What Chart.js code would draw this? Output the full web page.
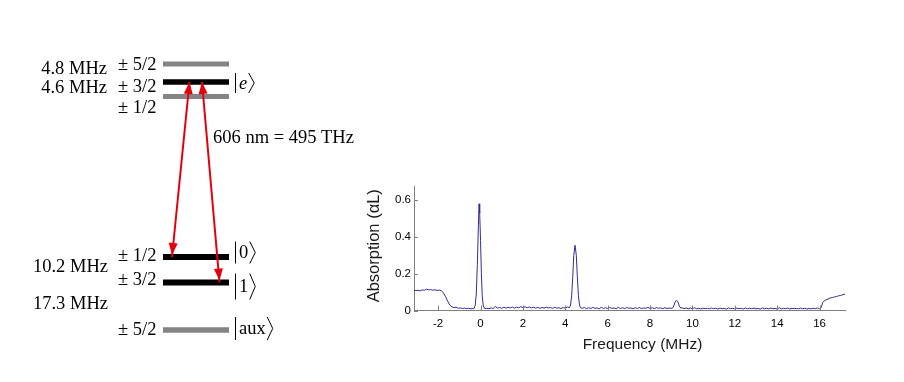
<!DOCTYPE html>
<html><head><meta charset="utf-8">
<script src="https://cdn.jsdelivr.net/npm/chart.js@4"></script>
<style>
html,body{margin:0;padding:0;background:#fff;}
#wrap{position:relative;width:904px;height:382px;overflow:hidden;}
canvas{position:absolute;left:0;top:0;}
</style></head><body>
<div id="wrap">
<canvas id="diagram" width="904" height="382"></canvas>
<canvas id="spectrum" width="904" height="382"></canvas>
</div>
<script>
// ---------- Spectrum data ----------
const freqMHz = [
-3.14,-3.05,-2.95,-2.85,-2.75,-2.65,-2.55,-2.45,-2.35,-2.25,-2.15,-2.05,-1.95,-1.85,
-1.75,-1.65,-1.55,-1.45,-1.35,-1.25,-1.15,-1.05,-0.95,-0.85,-0.75,-0.65,-0.55,-0.45,-0.35,
-0.30,-0.25,-0.20,-0.15,-0.10,-0.07,-0.04,0.00,0.04,0.08,0.13,0.20,
0.3,0.4,0.5,0.6,0.7,0.8,0.9,1.0,1.1,1.2,1.3,1.4,1.5,1.6,1.7,1.8,1.9,2.0,2.1,2.2,2.3,2.4,2.5,2.6,2.7,2.8,2.9,3.0,3.1,3.2,3.3,3.4,3.5,3.6,3.7,3.8,3.9,4.0,4.1,
4.20,4.25,4.30,4.35,4.40,4.46,4.52,4.57,4.62,4.67,4.72,
4.8,4.9,5.0,5.1,5.2,5.3,5.4,5.5,5.6,5.7,5.8,5.9,6.0,6.1,6.2,6.3,6.4,6.5,6.6,6.7,6.8,6.9,7.0,7.1,7.2,7.3,7.4,7.5,7.6,7.7,7.8,7.9,8.0,8.1,8.2,8.3,8.4,8.5,8.6,8.7,8.8,8.9,9.0,
9.05,9.12,9.18,9.25,9.32,9.38,9.45,
9.5,9.6,9.7,9.8,9.9,10.0,10.1,10.2,10.3,10.4,10.5,10.6,10.7,10.8,10.9,11.0,11.1,11.2,11.3,11.4,11.5,11.6,11.7,11.8,11.9,12.0,12.1,12.2,12.3,12.4,12.5,12.6,12.7,12.8,12.9,13.0,13.1,13.2,13.3,13.4,13.5,13.6,13.7,13.8,13.9,14.0,14.1,14.2,14.3,14.4,14.5,14.6,14.7,14.8,14.9,15.0,15.1,15.2,15.3,15.4,15.5,15.6,15.7,15.8,15.9,16.0,
16.05,16.1,16.15,16.2,16.3,16.4,16.5,16.6,16.7,16.8,16.9,17.0,17.1,17.2
];
const absorption = [
0.111,0.108,0.110,0.107,0.112,0.110,0.116,0.112,0.114,0.110,0.113,0.109,0.111,0.108,
0.095,0.075,0.050,0.030,0.020,0.016,0.018,0.012,0.014,0.011,0.013,0.010,0.012,0.009,0.011,
0.012,0.030,0.090,0.250,0.470,0.580,0.530,0.380,0.200,0.080,0.025,0.010,
0.012,0.010,0.014,0.011,0.022,0.013,0.016,0.012,0.018,0.013,0.017,0.014,0.019,0.013,0.018,0.015,0.021,0.016,0.020,0.015,0.019,0.014,0.018,0.013,0.017,0.012,0.016,0.013,0.018,0.014,0.016,0.012,0.017,0.013,0.015,0.011,0.016,0.012,0.019,
0.015,0.030,0.080,0.180,0.300,0.355,0.300,0.180,0.080,0.030,0.015,
0.012,0.016,0.010,0.015,0.011,0.017,0.012,0.014,0.009,0.018,0.011,0.015,0.010,0.016,0.012,0.014,0.009,0.017,0.011,0.015,0.010,0.016,0.012,0.014,0.009,0.015,0.011,0.016,0.010,0.014,0.012,0.017,0.011,0.015,0.010,0.016,0.012,0.014,0.010,0.015,0.011,0.013,0.012,
0.012,0.025,0.045,0.055,0.045,0.025,0.012,
0.016,0.010,0.014,0.009,0.013,0.010,0.015,0.009,0.012,0.008,0.013,0.010,0.012,0.009,0.014,0.010,0.012,0.008,0.013,0.010,0.011,0.008,0.014,0.010,0.012,0.009,0.013,0.010,0.012,0.008,0.014,0.009,0.012,0.010,0.013,0.009,0.011,0.008,0.014,0.010,0.012,0.009,0.013,0.010,0.011,0.008,0.015,0.009,0.012,0.010,0.013,0.008,0.012,0.010,0.011,0.009,0.013,0.010,0.012,0.008,0.011,0.009,0.012,0.010,0.014,0.009,
0.012,0.025,0.045,0.050,0.058,0.062,0.068,0.070,0.074,0.076,0.080,0.082,0.086,0.089
];
const xTicks = [-2,0,2,4,6,8,10,12,14,16];
const yTicks = [0,0.2,0.4,0.6];
const xTitle = 'Frequency (MHz)';
const yTitle = 'Absorption (\u03B1L)';

// ---------- Level diagram data (schematic energy coordinate) ----------
const upperLevelLabels = ['\u00B1 5/2','\u00B1 3/2','\u00B1 1/2'];
const upperLevelPos = [64, 82, 96.5];
const lowerLevelLabels = ['\u00B1 1/2','\u00B1 3/2','\u00B1 5/2'];
const lowerLevelPos = [257, 282.5, 330];
const upperSplittings = ['4.8 MHz','4.6 MHz'];
const lowerSplittings = ['10.2 MHz','17.3 MHz'];
const ketNames = ['e','0','1','aux'];
const transitionLabel = '606 nm = 495 THz';
const transitionTop = [189.5, 202];     // horizontal place on |e>
const transitionBottom = [172, 219.5];  // horizontal place on |0>, |1>

// ---------- Spectrum chart ----------
const spectrumDecor = {
  id: 'spectrumDecor',
  afterDraw(chart) {
    const {ctx, chartArea: a, scales: {x, y}} = chart;
    ctx.save();
    ctx.strokeStyle = '#808080'; ctx.lineWidth = 1;
    ctx.beginPath();
    xTicks.forEach(v => { const px = Math.round(x.getPixelForValue(v)) + 0.5; ctx.moveTo(px, a.bottom); ctx.lineTo(px, a.bottom - 5); });
    yTicks.forEach(v => { const py = Math.round(y.getPixelForValue(v)) + 0.5; ctx.moveTo(a.left, py); ctx.lineTo(a.left + 4, py); });
    ctx.stroke();
    ctx.fillStyle = '#1a1a1a';
    ctx.font = '15.5px "Liberation Sans", Arial, sans-serif';
    ctx.textAlign = 'center'; ctx.textBaseline = 'alphabetic';
    ctx.fillText(xTitle, (a.left + a.right) / 2 + 13, a.bottom + 38);
    ctx.translate(a.left - 35, (a.top + a.bottom) / 2 - 2.5);
    ctx.rotate(-Math.PI / 2);
    ctx.font = '16.5px "Liberation Sans", Arial, sans-serif';
    ctx.fillText(yTitle, 0, 0);
    ctx.restore();
  }
};

new Chart(document.getElementById('spectrum'), {
  type: 'scatter',
  data: { datasets: [{
    data: freqMHz.map((f, i) => ({x: f, y: absorption[i]})),
    showLine: true, borderColor: '#2f2f92', borderWidth: 1, pointRadius: 0, tension: 0
  }]},
  options: {
    responsive: false, animation: false, devicePixelRatio: 1,
    layout: { padding: { top: 186, right: 59, left: 0, bottom: 0 } },
    plugins: { legend: {display: false}, tooltip: {enabled: false} },
    scales: {
      x: {
        type: 'linear', min: -3.14, max: 17.2,
        afterBuildTicks: s => { s.ticks = xTicks.map(v => ({value: v})); },
        afterFit: s => { s.height = 71.5; },
        grid: {display: false, drawTicks: false},
        border: {display: true, color: '#808080', width: 1},
        ticks: { padding: 6, color: '#000', autoSkip: false, maxRotation: 0,
          font: {family: '"Liberation Sans", Arial, sans-serif', size: 11.5},
          callback: v => String(v) }
      },
      y: {
        type: 'linear', min: 0, max: 0.677,
        afterBuildTicks: s => { s.ticks = yTicks.map(v => ({value: v})); },
        afterFit: s => { s.width = 414; },
        grid: {display: false, drawTicks: false},
        border: {display: true, color: '#808080', width: 1},
        ticks: { padding: 3, color: '#000',
          font: {family: '"Liberation Sans", Arial, sans-serif', size: 11.5},
          callback: v => v === 0 ? '0' : v.toFixed(1) }
      }
    }
  },
  plugins: [spectrumDecor]
});

// ---------- Level diagram chart ----------
const levelLeft = 163, levelRight = 229;
const RED = '#e4000c';
const SERIF = '"Liberation Serif", "Times New Roman", serif';
const diagramDatasets = [];
for (let i = 0; i < 2; i++) {
  diagramDatasets.push({
    label: 'arrow' + i,
    data: [{x: transitionTop[i], y: upperLevelPos[1]}, {x: transitionBottom[i], y: lowerLevelPos[i]}],
    showLine: true, borderColor: RED, borderWidth: 2, pointRadius: 0, order: 0
  });
}
upperLevelPos.forEach((p, i) => diagramDatasets.push({
  label: 'upper' + i,
  data: [{x: levelLeft, y: p}, {x: levelRight, y: p}],
  showLine: true, borderColor: i === 1 ? '#000000' : '#848484',
  borderWidth: i === 1 ? 5.5 : 5, borderCapStyle: 'butt', pointRadius: 0, order: 1
}));
lowerLevelPos.forEach((p, i) => diagramDatasets.push({
  label: 'lower' + i,
  data: [{x: levelLeft, y: p}, {x: levelRight, y: p}],
  showLine: true, borderColor: i < 2 ? '#000000' : '#848484',
  borderWidth: i < 2 ? 6 : 5.5, borderCapStyle: 'butt', pointRadius: 0, order: 1
}));

const diagramDecor = {
  id: 'diagramDecor',
  afterDatasetsDraw(chart) {
    const {ctx, scales: {x, y}} = chart;
    const X = v => x.getPixelForValue(v), Y = v => y.getPixelForValue(v);
    ctx.save();
    ctx.fillStyle = RED;
    for (let i = 0; i < 2; i++) {
      const p0 = {x: X(transitionTop[i]), y: Y(upperLevelPos[1])};
      const p1 = {x: X(transitionBottom[i]), y: Y(lowerLevelPos[i]) - 2};
      [[p0, p1], [p1, p0]].forEach(([tip, from]) => {
        const dx = tip.x - from.x, dy = tip.y - from.y, L = Math.hypot(dx, dy);
        const ux = dx / L, uy = dy / L, len = 12, hw = 4.5;
        const bx = tip.x - ux * len, by = tip.y - uy * len;
        ctx.beginPath();
        ctx.moveTo(tip.x, tip.y);
        ctx.lineTo(bx - uy * hw, by + ux * hw);
        ctx.lineTo(bx + uy * hw, by - ux * hw);
        ctx.closePath(); ctx.fill();
      });
    }
    ctx.fillStyle = '#000';
    ctx.font = '18.5px ' + SERIF;
    ctx.textBaseline = 'middle';
    ctx.textAlign = 'right';
    const upOff = [1, 5.5, 11.5];
    upperLevelLabels.forEach((t, i) => ctx.fillText(t, X(156.5), Y(upperLevelPos[i] + upOff[i])));
    const loOff = [-1, -2, 0];
    lowerLevelLabels.forEach((t, i) => ctx.fillText(t, X(156.5), Y(lowerLevelPos[i] + loOff[i])));
    ctx.fillText(upperSplittings[0], X(107), Y(69));
    ctx.fillText(upperSplittings[1], X(107), Y(88.5));
    ctx.fillText(lowerSplittings[0], X(108), Y(267));
    ctx.fillText(lowerSplittings[1], X(108), Y(304));
    ctx.textAlign = 'left';
    ctx.fillText(transitionLabel, X(213), Y(138));
    const ketY = [83, 252.5, 286.5, 328.5];
    const ketH = [20, 22, 26, 23];
    ketNames.forEach((n, i) => {
      const cy = Y(ketY[i]), h = ketH[i] / 2, bx = X(235.5);
      ctx.font = (i === 0 ? 'italic ' : '') + '18.5px ' + SERIF;
      ctx.fillText(n, bx + 3.5, cy + 1);
      const w = ctx.measureText(n).width;
      const ax = bx + 3.5 + w + 1.5;
      ctx.strokeStyle = '#000'; ctx.lineWidth = 1;
      ctx.beginPath();
      ctx.moveTo(bx, cy - h); ctx.lineTo(bx, cy + h);
      ctx.moveTo(ax, cy - h); ctx.lineTo(ax + 5.5, cy); ctx.lineTo(ax, cy + h);
      ctx.stroke();
    });
    ctx.restore();
  }
};

new Chart(document.getElementById('diagram'), {
  type: 'scatter',
  data: { datasets: diagramDatasets },
  options: {
    responsive: false, animation: false, devicePixelRatio: 1,
    layout: { padding: 0 },
    plugins: { legend: {display: false}, tooltip: {enabled: false} },
    scales: {
      x: { type: 'linear', min: 0, max: 904, display: false },
      y: { type: 'linear', min: 0, max: 382, reverse: true, display: false }
    }
  },
  plugins: [diagramDecor]
});
</script>
</body></html>
